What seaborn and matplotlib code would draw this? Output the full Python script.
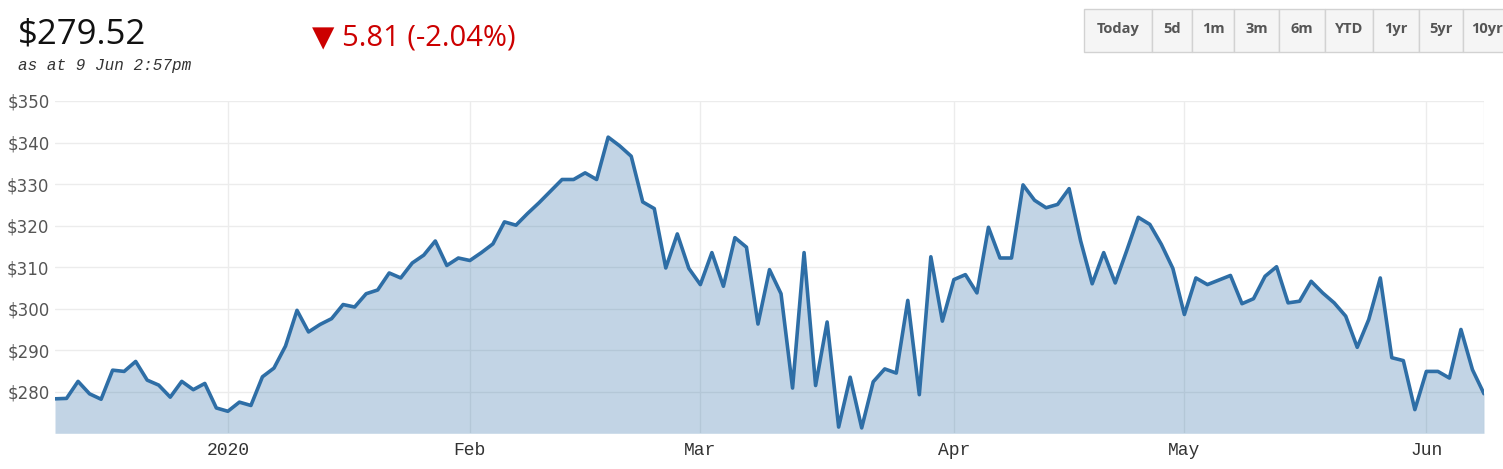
import numpy as np
import pandas as pd
import seaborn as sns
import matplotlib.pyplot as plt
from matplotlib.patches import Rectangle

# daily closes (ASX trading days, 9 Dec 2019 - 9 Jun 2020)
prices = [
    278.3, 278.4, 282.5, 279.5, 278.2, 285.2, 284.9, 287.3, 282.8, 281.6,
    278.7, 282.5, 280.5, 282.0, 276.1, 275.3, 277.5, 276.7, 283.6, 285.7,
    291.0, 299.6, 294.4, 296.2, 297.6, 301.0, 300.4, 303.6, 304.5, 308.6,
    307.4, 311.0, 312.9, 316.3, 310.4, 312.2, 311.6, 313.5, 315.6, 320.9,
    320.1, 322.9, 325.5, 328.3, 331.1, 331.1, 332.7, 331.1, 341.3, 339.2,
    336.7, 325.7, 324.1, 309.8, 318.0, 309.7, 305.8, 313.5, 305.4, 317.1,
    314.8, 296.3, 309.4, 303.6, 280.9, 313.5, 281.5, 296.8, 271.5, 283.5,
    271.3, 282.4, 285.5, 284.5, 302.0, 279.3, 312.5, 297.0, 307.0, 308.2,
    303.8, 319.6, 312.2, 312.2, 329.8, 326.1, 324.3, 325.1, 328.9, 316.3,
    306.0, 313.5, 306.2, 314.0, 322.0, 320.3, 315.5, 309.7, 298.6, 307.4,
    305.8, 306.9, 308.0, 301.2, 302.4, 307.8, 310.1, 301.4, 301.8, 306.6,
    303.8, 301.4, 298.2, 290.7, 297.4, 307.4, 288.2, 287.5, 275.7, 284.9,
    284.9, 283.3, 295.0, 285.3, 279.52]

holidays = ["2019-12-25", "2019-12-26", "2020-01-01", "2020-01-27",
            "2020-04-10", "2020-04-13", "2020-06-08"]
dates = pd.bdate_range("2019-12-09", "2020-06-09", freq="C", holidays=holidays)

month_labels = ["2020", "Feb", "Mar", "Apr", "May", "Jun"]
y_ticks = [280, 290, 300, 310, 320, 330, 340, 350]
y_labels = ["$" + str(v) for v in y_ticks]
buttons = ["Today", "5d", "1m", "3m", "6m", "YTD", "1yr", "5yr", "10yr"]
button_edges = [1084, 1152, 1192, 1234, 1279, 1325, 1373, 1419, 1463, 1510]

df = pd.DataFrame({"idx": np.arange(len(dates)), "date": dates, "price": prices})
month_starts = df.groupby(df["date"].dt.to_period("M"))["idx"].min().iloc[1:].tolist()

line_color = "#2e6ea6"

sns.set_style("white")
plt.rcParams["font.family"] = ["DejaVu Sans"]

W, H = 1503, 469
fig = plt.figure(figsize=(W / 100, H / 100), dpi=100)
ax = fig.add_axes([55 / W, 1 - 433.3 / H, (1484 - 55) / W, (433.3 - 101) / H])

ax.fill_between(df["idx"], df["price"], 270, color=line_color, alpha=0.29, lw=0)
sns.lineplot(data=df, x="idx", y="price", ax=ax, color=line_color, lw=2.6)

ax.set_xlim(0, len(df) - 1)
ax.set_ylim(270, 350)
ax.set_yticks(y_ticks)
ax.set_yticklabels(y_labels, fontsize=12, color="#555555")
ax.set_xticks(month_starts)
ax.set_xticklabels(month_labels, fontsize=13, color="#333333", family="Liberation Mono")
ax.tick_params(length=0)
ax.tick_params(axis="y", pad=4)
ax.tick_params(axis="x", pad=6)
ax.grid(True, color="#ececec", lw=1)
ax.set_axisbelow(True)
ax.set_xlabel("")
ax.set_ylabel("")
for s in ax.spines.values():
    s.set_visible(False)
ax.axvline(len(df) - 1, color="#ececec", lw=1, zorder=0)

# header
fig.text(18 / W, 1 - 44 / H, "$279.52", fontsize=25, family="Open Sans",
         color="#111111", va="baseline")
fig.text(18 / W, 1 - 65 / H, "as at 9 Jun 2:57pm", fontsize=11.5,
         family="Liberation Mono", style="italic", color="#333333", va="center")
fig.text(312 / W, 1 - 38 / H, "\u25BC 5.81 (-2.04%)", fontsize=21,
         family=["Open Sans", "DejaVu Sans"], color="#cc0000", va="center")

# range buttons
for i, lab in enumerate(buttons):
    x0, x1 = button_edges[i], button_edges[i + 1]
    fig.add_artist(Rectangle((x0 / W, 1 - 51.5 / H), (x1 - x0) / W, 43 / H,
                             transform=fig.transFigure, facecolor="#f5f5f5",
                             edgecolor="#d2d2d2", lw=1))
    fig.text((x0 + x1) / 2 / W, 1 - 29 / H, lab, fontsize=10.5, family="Open Sans",
             weight="bold", color="#555555", ha="center", va="center")

fig.savefig("out.png", dpi=100)
